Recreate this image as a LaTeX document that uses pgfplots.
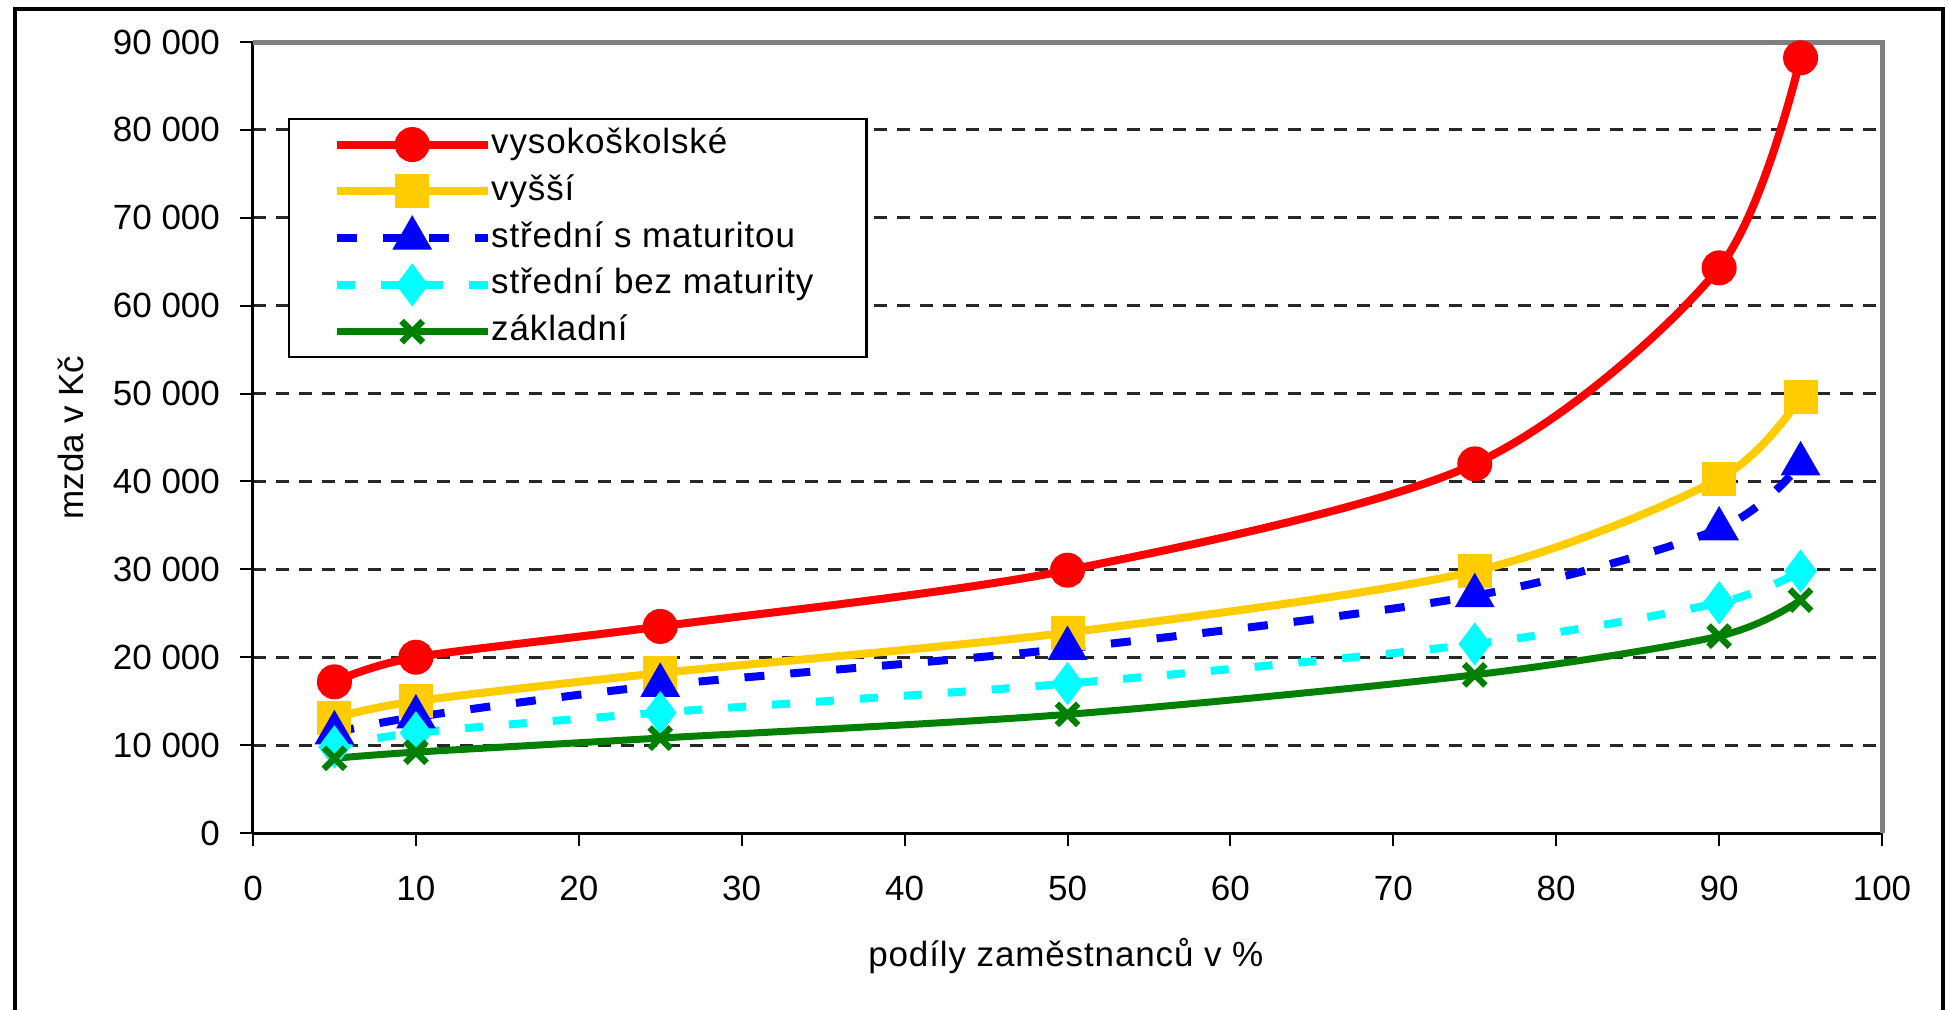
\documentclass[border=0pt]{standalone}
\usepackage{fontspec}
\setmainfont{Liberation Sans}
\newfontfamily\legfont[LetterSpace=2.5]{Liberation Sans}
\usepackage{pgfplots}
\pgfplotsset{compat=1.18}
\definecolor{cRed}{HTML}{FF0000}
\definecolor{cYel}{HTML}{FFCC00}
\definecolor{cBlue}{HTML}{0000FF}
\definecolor{cCyan}{HTML}{00FFFF}
\definecolor{cGreen}{HTML}{008000}
\definecolor{axgray}{HTML}{808080}
\begin{document}
\begin{tikzpicture}[font=\fontsize{17.5bp}{21bp}\selectfont]
\useasboundingbox (-126.5bp,-88.5bp) rectangle (847.5bp,416.5bp);
\draw[line width=2bp] (-119bp,-88.5bp) -- (-119bp,412bp) -- (845bp,412bp) -- (845bp,-88.5bp);
\begin{axis}[
  at={(0,0)}, anchor=south west,
  scale only axis, width=814.5bp, height=395.5bp,
  xmin=0, xmax=100, ymin=0, ymax=90000,
  axis x line*=bottom, axis y line*=left,
  axis line style={-, black, line width=1.5bp},
  xtick={0,10,...,100},
  ytick={0,10000,20000,30000,40000,50000,60000,70000,80000,90000},
  yticklabels={0,10 000,20 000,30 000,40 000,50 000,60 000,70 000,80 000,90 000},
  scaled y ticks=false,
  xticklabel style={/pgf/number format/assume math mode=true, yshift=-11.5bp},
  yticklabel style={xshift=-6.5bp},
  tick align=outside, major tick length=6.5bp,
  tick style={black, line width=1bp},
  ymajorgrids,
  grid style={black!85, line width=1.4bp, dash pattern=on 6.5bp off 5bp},
  xlabel={\legfont podíly zaměstnanců v \%},
  ylabel={mzda v Kč},
  xlabel style={at={(axis description cs:0.499,-0.1556)}, anchor=center},
  ylabel style={at={(axis description cs:-0.1117,0.5)}, anchor=center},
  legend image code/.code={\draw[mark repeat=2,mark phase=2,#1] plot coordinates {(0bp,0bp) (37.5bp,0bp) (75bp,0bp)};},
  legend cell align=left,
  legend style={at={(0.0215,0.904)}, anchor=north west, draw=black, line width=1.2bp,
    inner xsep=22bp, inner ysep=1bp, row sep=0bp, font=\fontsize{17.5bp}{21bp}\legfont,
    nodes={text height=13bp, text depth=4bp, inner ysep=3.2bp, inner xsep=0bp}},
  clip=false,
]
\addplot[smooth, color=cRed, line width=4bp, mark=*, mark size=6.75bp, mark options={solid, fill=cRed}]
  coordinates {(5,17200) (10,20000) (25,23500) (50,29900) (75,42000) (90,64300) (95,88200)};
\addlegendentry{vysokoškolské}
\addplot[smooth, color=cYel, line width=4bp, mark=square*, mark size=6.5bp, mark options={solid, fill=cYel}]
  coordinates {(5,13100) (10,15000) (25,18200) (50,22800) (75,29800) (90,40300) (95,49600)};
\addlegendentry{vyšší}
\addplot[smooth, color=cBlue, line width=4bp, dash pattern=on 10bp off 13bp, mark=triangle*, mark size=7.5bp, mark options={solid, fill=cBlue}]
  coordinates {(5,11400) (10,13200) (25,16800) (50,21000) (75,27000) (90,34600) (95,42000)};
\addlegendentry{střední s maturitou}
\addplot[smooth, color=cCyan, line width=4bp, dash pattern=on 9bp off 13bp, mark=diamond*, mark size=7.5bp, mark options={solid, fill=cCyan}]
  coordinates {(5,9800) (10,11400) (25,13700) (50,17000) (75,21500) (90,26200) (95,29800)};
\addlegendentry{střední bez maturity\hspace*{4.5bp}}
\addplot[smooth, color=cGreen, line width=3.5bp, mark=x, mark size=7.5bp, mark options={solid, line width=3.2bp}]
  coordinates {(5,8500) (10,9200) (25,10800) (50,13500) (75,18000) (90,22400) (95,26500)};
\addlegendentry{základní}
\draw[axgray, line width=2.5bp] (rel axis cs:0,1) -- (rel axis cs:1,1) -- (rel axis cs:1,0);
\end{axis}
\end{tikzpicture}
\end{document}
